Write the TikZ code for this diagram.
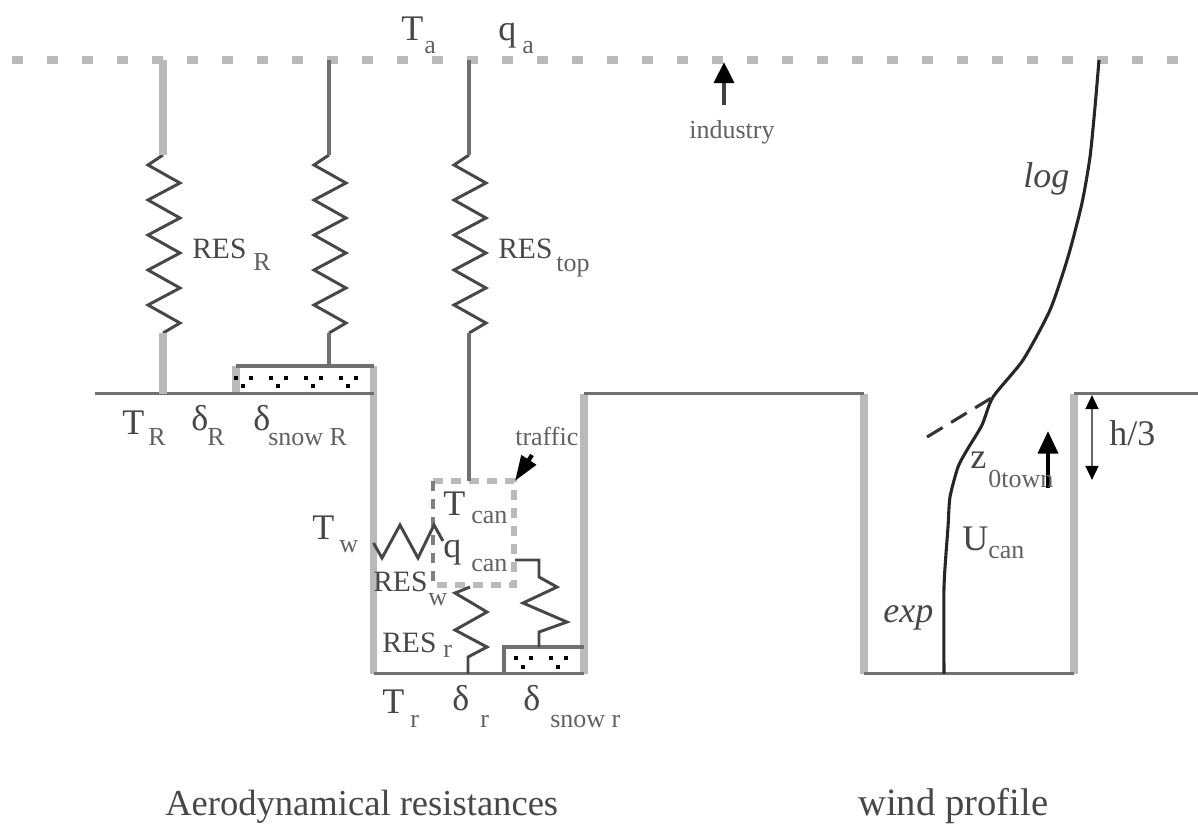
\documentclass[tikz,border=0pt]{standalone}
\usepackage{fontspec}
\setmainfont{Liberation Serif}
\usetikzlibrary{arrows.meta}
\tikzset{
  lab/.style={anchor=base west, inner sep=0pt, text=black!72, font=\fontsize{25.6}{30}\selectfont},
  sublab/.style={anchor=base west, inner sep=0pt, text=black!62, font=\fontsize{18.5}{22}\selectfont},
  reslab/.style={lab, font=\fontsize{21}{25}\selectfont},
  wall/.style={draw=black!27, line width=5pt},
  wire/.style={draw=black!56, line width=2.6pt},
  zig/.style={draw=black!72, line width=2.1pt},
  speck/.style={fill=black, draw=none},
}
\begin{document}
\begin{tikzpicture}[x=.025cm, y=-.025cm]
  \useasboundingbox (0,0) rectangle (1198,825);

  \coordinate (AirL) at (12,60);
  \coordinate (AirE) at (1198,60);
  \coordinate (RoofA) at (95,393.5);
  \coordinate (WallAT) at (373.5,393.5);
  \coordinate (WallAB) at (373.5,673.5);
  \coordinate (WallBT) at (584,393.5);
  \coordinate (WallBB) at (584,673.5);
  \coordinate (WallCT) at (864,393.5);
  \coordinate (WallCB) at (864,673.5);
  \coordinate (WallDT) at (1074,393.5);
  \coordinate (WallDB) at (1074,673.5);
  \coordinate (RoofE) at (1198,393.5);
  \coordinate (SnowRTL) at (236,366);
  \coordinate (SnowRTR) at (373.5,366);
  \coordinate (SnowRBL) at (236,393.5);
  \coordinate (SnowrTL) at (504,647);
  \coordinate (SnowrTR) at (584,647);
  \coordinate (SnowrBL) at (504,673.5);
  \coordinate (CanTL) at (433,481);
  \coordinate (CanTR) at (514,481);
  \coordinate (CanBR) at (514,585);
  \coordinate (CanBL) at (433,585);

  % walls and roofs
  \draw[wall, dash pattern=on 7.5pt off 17.4pt] (AirL)--(AirE);
  \draw[wall] (WallAT)--(WallAB) (WallBT)--(WallBB) (WallCT)--(WallCB) (WallDT)--(WallDB);
  \draw[wall] (SnowRTR)--(WallAT) (SnowRTL)--(SnowRBL);
  \draw[wire] (RoofA)--(WallAT) (WallAB)--(WallBB) (WallBT)--(WallCT) (WallCB)--(WallDB) (WallDT)--(RoofE);
  \draw[wire] (SnowRTL)--(SnowRTR);
  \draw[wire] (SnowrBL)--(SnowrTL)--(SnowrTR);
  \draw[wall, line width=4pt, dash pattern=on 7pt off 5.8pt] (CanTL)--(CanTR)--(CanBR)--(CanBL);
  \draw[wire, draw=black!50, line width=2.2pt, dash pattern=on 7pt off 5.8pt] (CanTL)--(CanBL);

  % snow
  \foreach \xsnow in {236,271,306,341}{
    \fill[speck] (\xsnow-2,376) rectangle +(4,4);
    \fill[speck] (\xsnow+13,376) rectangle +(4,4);
    \fill[speck] (\xsnow+5,384) rectangle +(4,4);
  }
  \foreach \xsnow in {516,551}{
    \fill[speck] (\xsnow-2,656) rectangle +(4,4);
    \fill[speck] (\xsnow+13,656) rectangle +(4,4);
    \fill[speck] (\xsnow+5,665) rectangle +(4,4);
  }

  % resistances to the air
  \foreach \xres in {163,329,469}{
    \draw[zig] (\xres,155) \foreach \yres in {165,200,235,270,305}{
      -- (\xres-15,\yres) -- (\xres+17,\yres+18)} -- (\xres,333);
  }
  \coordinate (ResAT) at (163,155);
  \coordinate (ResAB) at (163,333);
  \coordinate (ResBT) at (329,155);
  \coordinate (ResBB) at (329,333);
  \coordinate (ResCT) at (469,155);
  \draw[wall] (163,60)--(ResAT) (ResAB)--(163,393.5);
  \draw[wire] (329,60)--(ResBT) (ResBB)--(329,366);
  \draw[wire] (469,60)--(ResCT) (469,333)--(469,481);

  % resistances in the canyon
  \draw[zig] (WallAB |- 0,543)--(382,558)--(400,525)--(418,558)--(434,525)--(443,541);
  \draw[zig] (468,673.5)--(468,657)--(487,647)--(455,630)--(487,612)--(455,593)--(470,587);
  \draw[zig] (539,647)--(539,632)--(567,622)--(523,603)--(557,587)--(539,577)--(539,560)--(515,560);

  % wind profile
  \draw[draw=black!85, line width=2.2pt] plot[smooth, tension=.4] coordinates {(1099,60) (1095,107) (1090,157) (1082,203)
    (1068,257) (1050,310) (1023,360) (993,397) (982,425) (967,450) (958,467) (950,497)
    (948,527) (944,587) (944,673.5)};
  \draw[draw=black!80, line width=2.2pt, dash pattern=on 13pt off 7pt] (927,437)--(993,397);

  % arrows
  \coordinate (IndA) at (724,105);
  \coordinate (IndB) at (724,62);
  \coordinate (TrafA) at (532,455);
  \coordinate (TrafB) at (515,481);
  \coordinate (TownA) at (1048,488);
  \coordinate (TownB) at (1048,431);
  \coordinate (HalfA) at (1092,395);
  \coordinate (HalfB) at (1092,480);
  \draw[-{Triangle[width=14pt,length=15pt,color=black]}, line width=3pt, black!75] (IndA)--(IndB);
  \draw[-{Triangle[width=12pt,length=18pt]}, line width=3pt, black] (TrafA)--(TrafB);
  \draw[-{Triangle[width=14pt,length=16pt]}, line width=3pt, black] (TownA)--(TownB);
  \draw[{Triangle[width=9pt,length=10pt,color=black]}-{Triangle[width=9pt,length=10pt,color=black]}, line width=1.8pt, black!60] (HalfA)--(HalfB);

  % labels
  \node[lab] (Ta) at (401,40) {T};
  \node[sublab] (TaSub) at (424,53) {a};
  \node[lab] (qa) at (498,40) {q};
  \node[sublab] (qaSub) at (522,53) {a};
  \node[sublab] (Ind) at (689,138) {industry};
  \node[reslab] (ResR) at (192,258) {RES};
  \node[sublab] (ResRSub) at (253,270) {R};
  \node[reslab] (ResTop) at (498,258) {RES};
  \node[sublab] (ResTopSub) at (556,271) {top};
  \node[lab] (TR) at (122,434) {T};
  \node[sublab] (TRSub) at (148,445) {R};
  \node[lab] (dR) at (191,430) {δ};
  \node[sublab] (dRSub) at (207,445) {R};
  \node[lab] (dsR) at (253,430) {δ};
  \node[sublab] (dsRSub) at (268,445) {snow R};
  \node[sublab] (Traf) at (515,445) {traffic};
  \node[lab] (Tcan) at (443,515) {T};
  \node[sublab] (TcanSub) at (471,523) {can};
  \node[lab] (qcan) at (443,557) {q};
  \node[sublab] (qcanSub) at (471,571) {can};
  \node[lab] (Tw) at (312,539) {T};
  \node[sublab] (TwSub) at (339,552) {w};
  \node[reslab] (ResW) at (373,591) {RES};
  \node[sublab] (ResWSub) at (428,605) {w};
  \node[reslab] (Resr) at (382,652) {RES};
  \node[sublab] (ResrSub) at (443,657) {r};
  \node[lab] (Tr) at (382,713) {T};
  \node[sublab] (TrSub) at (410,727) {r};
  \node[lab] (dr) at (452,710) {δ};
  \node[sublab] (drSub) at (480,727) {r};
  \node[lab] (dsr) at (523,710) {δ};
  \node[sublab] (dsrSub) at (550,727) {snow r};
  \node[lab] (Half) at (1109,445) {h/3};
  \node[lab] (Z) at (970,468) {z};
  \node[sublab] (ZSub) at (988,487) {0town};
  \node[lab] (Ucan) at (962,550) {U};
  \node[sublab] (UcanSub) at (988,558) {can};
  \node[lab] (Exp) at (883,622) {\itshape exp};
  \node[lab] (Log) at (1023,187) {\itshape log};
  \node[lab, font=\fontsize{26}{30}\selectfont] (AeroCap) at (165,815) {Aerodynamical resistances};
  \node[lab, font=\fontsize{27.5}{32}\selectfont] (WindCap) at (858,815) {wind profile};
\end{tikzpicture}
\end{document}
